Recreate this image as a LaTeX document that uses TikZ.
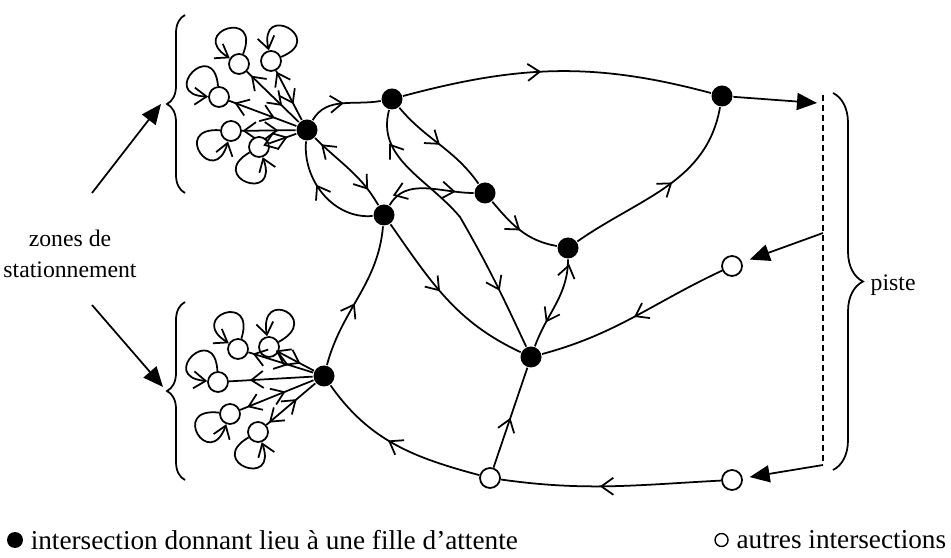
\documentclass[tikz,border=0pt]{standalone}
\usepackage{fontspec}
\setmainfont{Liberation Serif}
\usetikzlibrary{arrows.meta,decorations.markings,decorations.pathreplacing,positioning}

\tikzset{
  queue/.style={circle,fill=black,inner sep=0pt,minimum size=4.2mm},
  plain/.style={circle,draw,fill=white,inner sep=0pt,minimum size=4mm},
  mid/.style={postaction={decorate},decoration={markings,mark=at position #1 with {\arrow{>}}}},
  both/.style 2 args={postaction={decorate},decoration={markings,mark=at position #1 with {\arrow{<}},mark=at position #2 with {\arrow{>}}}},
  big/.style={-{Triangle[length=4mm,width=3.4mm]}},
  bracket/.style={decorate,decoration={brace,amplitude=#1}},
  legend/.style={inner sep=0pt,font=\fontsize{15.5}{18}\selectfont},
}

\begin{document}
\begin{tikzpicture}[x=0.2mm,y=0.2mm,line width=1pt,>={Straight Barb[length=2.4mm,width=3.4mm]},font=\fontsize{13.5}{18}\selectfont]
\useasboundingbox (0,0) rectangle (951,558);
% intersections with a queue
\node[queue] (A) at (307,428) {};
\node[queue] (B) at (392,459) {};
\node[queue] (C) at (722,462) {};
\node[queue] (D) at (485,365) {};
\node[queue] (E) at (384,343) {};
\node[queue] (F) at (568,310) {};
\node[queue] (G) at (531,201) {};
\node[queue] (H) at (324,182) {};
% other intersections
\node[plain] (I) at (732,292) {};
\node[plain] (J) at (732,78) {};
\node[plain] (K) at (490,80) {};

% parking zones
\foreach \n/\x/\y/\o/\i in {s1/239/494/68/148,s2/271/497/22/102,s3/219/461/95/178,s4/231/427/176/254,s5/259/411/210/290}{
  \node[plain] (\n) at (\x,\y) {};
  \draw[->] (\n) to[out=\o,in=\i,distance=10mm] (\n);
  \draw[both={0.28}{0.68}] (\n) -- (A);
}
\foreach \n/\x/\y/\o/\i in {t1/238/209/72/148,t2/269/211/28/100,t3/218/176/93/175,t4/230/144/173/250,t5/258/126/210/290}{
  \node[plain] (\n) at (\x,\y) {};
  \draw[->] (\n) to[out=\o,in=\i,distance=10mm] (\n);
}
\foreach \n in {t1,t2,t4,t5}
  \draw[both={0.28}{0.62}] (\n) -- (H);
\draw[mid=0.75] (H) -- (t3);

% roads
\coordinate (bg) at (460,341);
\draw[mid=0.5] (A) to[out=60,in=190] (B);
\draw[mid=0.45] (B) to[out=15,in=165] (C);
\draw[mid=0.55] (F) to[out=35,in=-100] (C);
\draw[mid=0.5] (B) to[out=-50,in=125] (D);
\draw[mid=0.5] (D) to[out=-50,in=170] (F);
\draw[both={0.25}{0.8}] (A) to[out=-45,in=120] (E);
\draw[mid=0.45] (E) to[out=-55,in=155] (G);
\draw[mid=0.6] (E) to[out=185,in=-95] (A);
\draw[both={0.25}{0.8}] (E) to[out=60,in=180] (D);
\draw[both={0.17}{0.78}] (B) to[out=-105,in=130] (bg) to[out=-60,in=115] (G);
\draw[both={0.2}{0.72}] (F) to[out=-90,in=70] (G);
\draw[mid=0.5] (I) to[out=205,in=15] (G);
\draw[mid=0.5] (K) -- (G);
\draw[mid=0.55] (J) to[out=183,in=-8] (K);
\draw[mid=0.55] (K) to[out=165,in=-55] (H);
\draw[mid=0.45] (H) to[out=75,in=-95] (E);

% runway
\coordinate (pt) at (823,463);
\coordinate (pb) at (823,93);
\coordinate (pc) at (817,455);
\coordinate (pi) at (823,325);
\draw[dashed,dash pattern=on 1.2mm off 0.8mm] (pt) -- (pb);
\draw[big] (C) -- (pc);
\draw[big,shorten >=1.6mm] (pi) -- (I);
\draw[big,shorten >=1.4mm] (pb) -- (J);
\draw[bracket=6mm] (833,465) -- (833,88);
\node[anchor=west] (piste) at (864,273) {piste};

% labels
\draw[bracket=3.6mm] (185,365) -- (185,543);
\draw[bracket=3.6mm] (185,78) -- (185,256);
\node[align=center] (zone) at (70,304) {zones de\\stationnement};
\coordinate (zuS) at (92,365);
\coordinate (zuT) at (161,454);
\coordinate (zlS) at (92,253);
\coordinate (zlT) at (163,171);
\draw[big] (zuS) -- (zuT);
\draw[big] (zlS) -- (zlT);

% legend
\node[queue,minimum size=3.2mm] (lq) at (15,18) {};
\node[legend,right=1.2mm of lq] (lqt) {intersection donnant lieu à une fille d’attente};
\node[legend,anchor=east] (lpt) at (947,18) {autres intersections};
\node[plain,minimum size=2.6mm,line width=0.8pt,left=1.4mm of lpt] (lp) {};
\end{tikzpicture}
\end{document}
